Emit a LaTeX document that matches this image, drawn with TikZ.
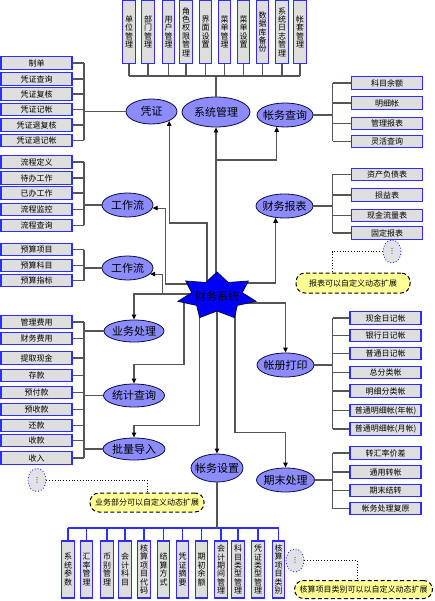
\documentclass[tikz,border=0pt]{standalone}
\usepackage{fontspec}
\setmainfont{Noto Sans CJK SC}
\newfontfamily\dejavu{DejaVu Sans}
\usetikzlibrary{shapes.geometric,arrows.meta,calc}
\definecolor{boxgray}{RGB}{222,222,222}
\definecolor{boxblue}{RGB}{45,45,255}
\definecolor{peri}{RGB}{140,140,255}
\definecolor{navy}{RGB}{10,10,70}
\definecolor{starblue}{RGB}{0,0,250}
\definecolor{lgray}{RGB}{85,85,85}
\definecolor{callyel}{RGB}{255,255,150}
\definecolor{dotfill}{RGB}{225,225,232}
\tikzset{
 hbox/.style={rectangle, draw=boxblue, fill=boxgray, line width=1.1pt, minimum width=71pt, minimum height=12.5pt, inner sep=0pt, font=\fontsize{8}{9}\selectfont},
 vbox/.style={rectangle, draw=boxblue, fill=boxgray, line width=1.1pt, minimum width=12.5pt, inner sep=0pt, align=center, font=\fontsize{8}{8.4}\selectfont},
 oval/.style={ellipse, draw=navy, fill=peri, line width=0.8pt, inner xsep=-6pt, inner ysep=-2pt, font=\fontsize{11}{12}\selectfont},
 conn/.style={draw=lgray, line width=1.1pt},
 arr/.style={conn, -{Triangle[length=5pt,width=4.5pt,color=black]}},
 bus/.style={draw=boxblue, line width=1.2pt},
 dotov/.style={ellipse, draw=boxblue, dotted, line width=0.9pt, fill=dotfill, minimum width=18pt, minimum height=23pt, inner sep=0pt, font=\dejavu\fontsize{7}{8}\selectfont},
 dotln/.style={draw=black, dotted, line width=0.8pt},
 callout/.style={rectangle, rounded corners=9pt, draw=black, dash pattern=on 4pt off 2.5pt, line width=1pt, fill=callyel, inner sep=0pt, font=\fontsize{8}{9}\selectfont},
 starsty/.style={fill=starblue, draw=navy, line width=0.8pt},
}
\begin{document}
\begin{tikzpicture}[x=1pt,y=-1pt]
\fill[white] (0,0) rectangle (434,601);
\useasboundingbox (0,0) rectangle (434,601);

% ---------- top boxes ----------
\node[vbox, minimum height=63pt] (t1) at (129,32) {单\\位\\管\\理};
\node[vbox, minimum height=63pt] (t2) at (148,32) {部\\门\\管\\理};
\node[vbox, minimum height=63pt] (t3) at (168.5,32) {用\\户\\管\\理};
\node[vbox, minimum height=63pt] (t4) at (186,32) {角\\色\\权\\限\\管\\理};
\node[vbox, minimum height=63pt] (t5) at (205.5,32) {界\\面\\设\\置};
\node[vbox, minimum height=63pt] (t6) at (224.5,32) {菜\\单\\管\\理};
\node[vbox, minimum height=63pt] (t7) at (243.5,32) {菜\\单\\设\\置};
\node[vbox, minimum height=63pt] (t8) at (262.5,32) {数\\据\\库\\备\\份};
\node[vbox, minimum height=63pt] (t9) at (282,32) {系\\统\\日\\志\\管\\理};
\node[vbox, minimum height=63pt] (t10) at (300,32) {帐\\套\\管\\理};

% ---------- ellipses ----------
\node[oval, minimum width=68pt, minimum height=30pt] (sys) at (216,112) {系统管理};
\node[oval, minimum width=51pt, minimum height=25pt] (pz) at (151.5,111.5) {凭证};
\node[oval, minimum width=56pt, minimum height=24pt] (zq) at (285,115) {帐务查询};
\node[oval, minimum width=51pt, minimum height=24pt] (w1) at (127.5,205) {工作流};
\node[oval, minimum width=51pt, minimum height=24pt] (w2) at (127.5,268) {工作流};
\node[oval, minimum width=57pt, minimum height=24pt] (bb) at (284.5,206) {财务报表};
\node[oval, minimum width=60pt, minimum height=22pt] (yw) at (134,331) {业务处理};
\node[oval, minimum width=61pt, minimum height=23pt] (tj) at (134,395.5) {统计查询};
\node[oval, minimum width=62pt, minimum height=22pt] (pl) at (134,449) {批量导入};
\node[oval, minimum width=57pt, minimum height=24pt] (zc) at (285.5,365) {帐册打印};
\node[oval, minimum width=58pt, minimum height=24pt] (qm) at (285.5,480) {期末处理};
\node[oval, minimum width=52pt, minimum height=28pt] (zs) at (217,468) {帐务设置};

% ---------- top bus ----------
\coordinate (tbus) at (0,76);
\foreach \i in {1,...,10} \draw[conn] (t\i.south) -- (t\i.south |- tbus);
\draw[conn] (t1.south |- tbus) -- (t10.south |- tbus);
\draw[conn] (sys.north) -- (sys.north |- tbus);

% ---------- left boxes ----------
\coordinate (lbr) at (84,0);
\node[hbox] (p1) at (36.5,63) {制单};
\node[hbox] (p2) at (36.5,79) {凭证查询};
\node[hbox] (p3) at (36.5,94) {凭证复核};
\node[hbox] (p4) at (36.5,109.5) {凭证记帐};
\node[hbox] (p5) at (36.5,125) {凭证退复核};
\node[hbox] (p6) at (36.5,140.5) {凭证退记帐};
\foreach \i in {1,...,6} \draw[conn] (p\i.east) -- (p\i.east -| lbr);
\draw[conn] (p1.east -| lbr) -- (p6.east -| lbr);
\draw[conn] (pz.west) -- (pz.west -| lbr);

\node[hbox] (f1) at (36.5,162) {流程定义};
\node[hbox] (f2) at (36.5,178) {待办工作};
\node[hbox] (f3) at (36.5,193) {已办工作};
\node[hbox] (f4) at (36.5,209.5) {流程监控};
\node[hbox] (f5) at (36.5,225.5) {流程查询};
\foreach \i in {1,...,5} \draw[conn] (f\i.east) -- (f\i.east -| lbr);
\draw[conn] (f1.east -| lbr) -- (f5.east -| lbr);
\draw[conn] (w1.west) -- (w1.west -| lbr);

\node[hbox] (g1) at (36.5,249.5) {预算项目};
\node[hbox] (g2) at (36.5,265.5) {预算科目};
\node[hbox] (g3) at (36.5,280.5) {预算指标};
\foreach \i in {1,...,3} \draw[conn] (g\i.east) -- (g\i.east -| lbr);
\draw[conn] (g1.east -| lbr) -- (g3.east -| lbr);
\draw[conn] (w2.west) -- (w2.west -| lbr);

\node[hbox] (b1) at (36.5,322) {管理费用};
\node[hbox] (b2) at (36.5,338.5) {财务费用};
\node[hbox] (b3) at (36.5,358) {提取现金};
\node[hbox] (b4) at (36.5,375.5) {存款};
\node[hbox] (b5) at (36.5,392.5) {预付款};
\node[hbox] (b6) at (36.5,409.5) {预收款};
\node[hbox] (b7) at (36.5,425.5) {还款};
\node[hbox] (b8) at (36.5,440.5) {收款};
\node[hbox] (b9) at (36.5,458) {收入};
\foreach \i in {1,...,9} \draw[conn] (b\i.east) -- (b\i.east -| lbr);
\draw[conn] (b1.east -| lbr) -- (b9.east -| lbr);
\draw[conn] (yw.west) -- (yw.west -| lbr);
\draw[conn] (tj.west) -- (tj.west -| lbr);
\draw[conn] (pl.west) -- (pl.west -| lbr);

% ---------- right boxes ----------
\coordinate (rbr) at (332.5,0);
\node[hbox] (q1) at (387,83) {科目余额};
\node[hbox] (q2) at (387,103) {明细帐};
\node[hbox] (q3) at (387,123.5) {管理报表};
\node[hbox] (q4) at (387,141.5) {灵活查询};
\foreach \i in {1,...,4} \draw[conn] (q\i.west) -- (q\i.west -| rbr);
\draw[conn] (q1.west -| rbr) -- (q4.west -| rbr);
\draw[conn] (zq.east) -- (zq.east -| rbr);

\node[hbox] (r1) at (387,174.5) {资产负债表};
\node[hbox] (r2) at (387,195) {损益表};
\node[hbox] (r3) at (387,215.5) {现金流量表};
\node[hbox] (r4) at (387,233) {固定报表};
\foreach \i in {1,...,4} \draw[conn] (r\i.west) -- (r\i.west -| rbr);
\draw[conn] (r1.west -| rbr) -- (r4.west -| rbr);
\draw[conn] (bb.east) -- (bb.east -| rbr);

\node[hbox] (m1) at (385.5,318) {现金日记帐};
\node[hbox] (m2) at (385.5,335.5) {银行日记帐};
\node[hbox] (m3) at (385.5,353.5) {普通日记帐};
\node[hbox] (m4) at (385.5,372.5) {总分类帐};
\node[hbox] (m5) at (385.5,391) {明细分类帐};
\node[hbox] (m6) at (385.5,410.5) {普通明细帐(年帐)};
\node[hbox] (m7) at (385.5,429) {普通明细帐(月帐)};
\foreach \i in {1,...,7} \draw[conn] (m\i.west) -- (m\i.west -| rbr);
\draw[conn] (m1.west -| rbr) -- (m7.west -| rbr);
\draw[conn] (zc.east) -- (zc.east -| rbr);

\node[hbox] (e1) at (385.5,453) {转汇率价差};
\node[hbox] (e2) at (385.5,472) {通用转帐};
\node[hbox] (e3) at (385.5,490.5) {期末结转};
\node[hbox] (e4) at (385.5,508.5) {帐务处理复原};
\foreach \i in {1,...,4} \draw[conn] (e\i.west) -- (e\i.west -| rbr);
\draw[conn] (e1.west -| rbr) -- (e4.west -| rbr);
\draw[conn] (qm.east) -- (qm.east -| rbr);

% ---------- bottom boxes ----------
\coordinate (bbus) at (0,528);
\node[vbox, minimum height=57pt] (s1) at (68,569.5) {系\\统\\参\\数};
\node[vbox, minimum height=57pt] (s2) at (86.5,569.5) {汇\\率\\管\\理};
\node[vbox, minimum height=57pt] (s3) at (107,569.5) {币\\别\\管\\理};
\node[vbox, minimum height=57pt] (s4) at (125,569.5) {会\\计\\科\\目};
\node[vbox, minimum height=57pt] (s5) at (144,569.5) {核\\算\\项\\目\\代\\码};
\node[vbox, minimum height=57pt] (s6) at (163.5,569.5) {结\\算\\方\\式};
\node[vbox, minimum height=57pt] (s7) at (182.5,569.5) {凭\\证\\摘\\要};
\node[vbox, minimum height=57pt] (s8) at (201.5,569.5) {期\\初\\余\\额};
\node[vbox, minimum height=57pt] (s9) at (221,569.5) {会\\计\\期\\间\\管\\理};
\node[vbox, minimum height=57pt] (s10) at (238,569.5) {科\\目\\类\\型\\管\\理};
\node[vbox, minimum height=57pt] (s11) at (258,569.5) {凭\\证\\类\\型\\管\\理};
\node[vbox, minimum height=57pt] (s12) at (278.5,569.5) {核\\算\\项\\目\\类\\别};
\foreach \i in {1,...,12} \draw[bus] (s\i.north) -- (s\i.north |- bbus);
\draw[bus] (s1.north |- bbus) -- (s12.north |- bbus);
\draw[conn] (zs.south) -- (zs.south |- bbus);

% ---------- dotted extensions and callouts ----------
\node[dotov] (d1) at (392,251.5) {⋮};
\node[callout, minimum width=114pt, minimum height=20pt] (c1) at (353,283) {报表可以自定义动态扩展};
\draw[dotln] (d1.west) -| ([xshift=-21pt]c1.north);

\node[dotov] (d2) at (37,480) {⋮};
\node[callout, minimum width=114pt, minimum height=19pt] (c2) at (147,502.5) {业务部分可以自定义动态扩展};
\draw[dotln] (d2.east) -| (c2.north);

\node[dotov] (d3) at (295,560.5) {⋮};
\node[callout, minimum width=138pt, minimum height=18pt] (c3) at (363.5,589.5) {核算项目类别可以以自定义动态扩展};
\draw[dotln] (d3.east) -| ([xshift=-6.5pt]c3.north);

% ---------- connectors from the star ----------
\coordinate (sc) at (217,296);
\coordinate (sA) at (207,292);
\coordinate (lvA) at (0,223);
\coordinate (lvB) at (0,160);
\coordinate (sW1) at (200,284);
\coordinate (sW2) at (205,294);
\coordinate (sT) at (184,300);
\coordinate (sP) at (199.5,312);
\coordinate (sQ) at (235,305);
\coordinate (sZ) at (245,303);
\coordinate (sB) at (240,283);

\draw[arr] (sA) |- (pz.332.5 |- lvA) -- (pz.332.5);
\draw[arr] (sys.south |- sc) -- (sys.south);
\draw[arr] (sys.south |- lvB) -| (zq.235);
\draw[arr] (sW1) -| ([xshift=13pt]w1.353) -- (w1.353);
\draw[arr] (sW2) -| ([xshift=12pt]w2.345) -- (w2.345);
\draw[arr] (sW2) -| (yw.north);
\draw[arr] (sT) |- ([yshift=19pt]tj.north) -- (tj.north);
\draw[arr] (sP) |- ([yshift=12pt]pl.north) -- (pl.north);
\draw[arr] (sc -| zs.north) -- (zs.north);
\draw[arr] (sQ) |- ([yshift=35pt]qm.north) -- (qm.north);
\draw[arr] (sZ) -| (zc.north);
\draw[arr] (sB) -| (bb.233);

% ---------- star ----------
\draw[starsty] (217,272) -- (205.7,282.5) -- (185.7,281) -- (191.7,292.7) -- (178,301.3)
  -- (196.7,305.4) -- (199.6,317.6) -- (217,311) -- (234.4,317.6) -- (237.3,305.4)
  -- (256,301.3) -- (242.3,292.7) -- (248.3,281) -- (228.3,282.5) -- cycle;
\node[font=\fontsize{11}{12}\selectfont, inner sep=0pt] (star) at (sc) {财务系统};
\end{tikzpicture}
\end{document}
